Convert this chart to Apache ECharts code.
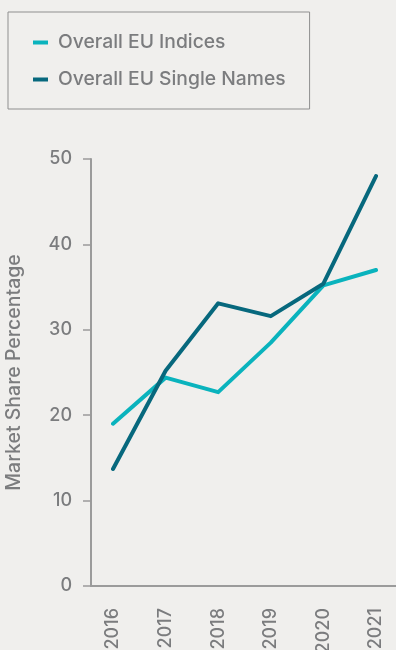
<!DOCTYPE html>
<html>
<head>
<meta charset="utf-8">
<script src="https://cdn.jsdelivr.net/npm/echarts@6/dist/echarts.min.js"></script>
<style>
html, body { margin: 0; padding: 0; background: #f0efed; }
#main { width: 396px; height: 650px; }
</style>
</head>
<body>
<div id="main"></div>
<script>
var years = ['2016', '2017', '2018', '2019', '2020', '2021'];
var indices = [19.0, 24.4, 22.7, 28.5, 35.2, 37.0];
var singleNames = [13.7, 25.2, 33.1, 31.6, 35.4, 48.0];
var seriesNames = ['Overall EU Indices', 'Overall EU Single Names'];

var gray = '#7b7c7e';
var axisGray = '#9b9b9b';

var myChart = echarts.init(document.getElementById('main'));

var option = {
    backgroundColor: '#f0efed',
    animation: false,
    textStyle: { fontFamily: 'Inter' },
    legend: {
        orient: 'vertical',
        left: 8,
        top: 12,
        padding: [21, 24, 20, 25],
        borderColor: '#8f8f8f',
        borderWidth: 1,
        itemGap: 18,
        itemWidth: 15,
        itemHeight: 4,
        icon: 'rect',
        textStyle: { color: gray, fontSize: 19.3, lineHeight: 19, fontWeight: 500, padding: [0, 0, 0, 5] },
        data: seriesNames
    },
    grid: [
        { left: 91, right: 0, top: 159, bottom: 64, outerBoundsMode: 'none' },
        { left: 113, right: 20, top: 159, bottom: 64, outerBoundsMode: 'none' }
    ],
    xAxis: [
        {
            type: 'value', gridIndex: 0, min: 0, max: 1,
            axisLine: { show: true, lineStyle: { color: axisGray, width: 2 } },
            axisTick: { show: false },
            axisLabel: { show: false },
            splitLine: { show: false }
        },
        {
            type: 'category', gridIndex: 1, boundaryGap: false,
            data: years,
            axisLine: { show: false },
            axisTick: { show: false },
            axisLabel: { rotate: 90, margin: 22, color: gray, fontSize: 18, fontWeight: 500 }
        }
    ],
    yAxis: [
        {
            type: 'value', gridIndex: 0, min: 0, max: 50, interval: 10,
            name: 'Market Share Percentage',
            nameLocation: 'middle',
            nameGap: 67,
            nameTextStyle: { color: gray, fontSize: 19.5, fontWeight: 500 },
            axisLine: { show: true, lineStyle: { color: axisGray, width: 2 } },
            axisTick: { show: true, length: 8, lineStyle: { color: axisGray, width: 1.5 } },
            axisLabel: { margin: 19, color: gray, fontSize: 18, fontWeight: 500 },
            splitLine: { show: false }
        },
        {
            type: 'value', gridIndex: 1, min: 0, max: 50,
            show: false
        }
    ],
    series: [
        {
            name: seriesNames[0],
            type: 'line',
            xAxisIndex: 1, yAxisIndex: 1,
            data: indices,
            symbol: 'none',
            color: '#0ab3bd',
            lineStyle: { width: 4, cap: 'round', join: 'round' }
        },
        {
            name: seriesNames[1],
            type: 'line',
            xAxisIndex: 1, yAxisIndex: 1,
            data: singleNames,
            symbol: 'none',
            color: '#07687d',
            lineStyle: { width: 4, cap: 'round', join: 'round' }
        }
    ]
};

myChart.setOption(option);
</script>
</body>
</html>
